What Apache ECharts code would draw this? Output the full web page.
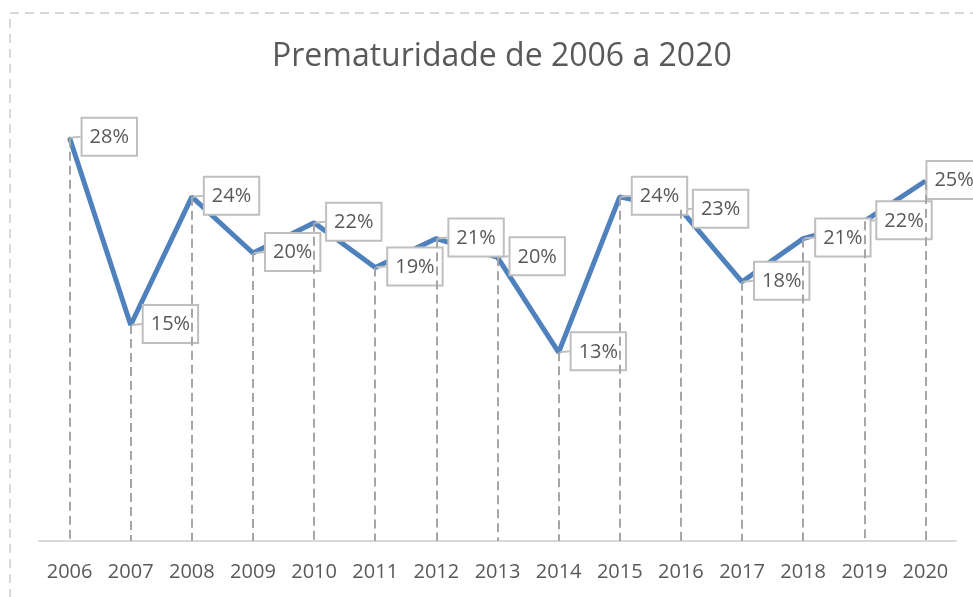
<!DOCTYPE html>
<html>
<head>
<meta charset="utf-8">
<script src="https://cdn.jsdelivr.net/npm/echarts@6/dist/echarts.min.js"></script>
<style>
    html, body { margin: 0; padding: 0; background: #fff; }
    #chart { width: 973px; height: 597px; }
</style>
</head>
<body>
<div id="chart"></div>
<script>
// anos e taxa de prematuridade (%)
var anos = ['2006', '2007', '2008', '2009', '2010', '2011', '2012', '2013', '2014', '2015', '2016', '2017', '2018', '2019', '2020'];
var taxa = [28.0, 15.0, 23.9, 20.0, 22.1, 19.0, 21.0, 19.7, 13.1, 23.9, 23.0, 18.0, 21.0, 22.2, 25.0];
var titulo = 'Prematuridade de 2006 a 2020';

var fonte = '"Open Sans", "Noto Sans", sans-serif';
var cinza = '#595959';

// linhas verticais tracejadas (do ponto até o eixo)
var linhasQueda = anos.map(function (ano, i) {
    return [{ coord: [ano, taxa[i]] }, { coord: [ano, 0] }];
});

// pontos com o rótulo deslocado (o último fica colado na borda)
var pontos = taxa.map(function (v, i) {
    if (i === taxa.length - 1) {
        return { value: v, label: { position: [3, -18] } };
    }
    return v;
});

var myChart = echarts.init(document.getElementById('chart'));

option = {
    backgroundColor: '#fff',
    animation: false,
    title: {
        text: titulo,
        left: 267,
        top: 36,
        textStyle: {
            fontFamily: fonte,
            fontSize: 32,
            fontWeight: 'normal',
            color: cinza
        }
    },
    graphic: [{
        // borda tracejada da área do gráfico
        type: 'rect',
        shape: { x: 10, y: 13, width: 1100, height: 700 },
        style: { fill: 'none', stroke: '#d9d9d9', lineWidth: 2, lineDash: [9, 6] },
        silent: true
    }],
    grid: {
        left: 39,
        right: 17,
        top: 109,
        bottom: 56
    },
    xAxis: {
        type: 'category',
        data: anos,
        boundaryGap: true,
        axisLine: { lineStyle: { color: '#d9d9d9', width: 2 } },
        axisTick: { show: false },
        axisLabel: {
            margin: 21,
            fontFamily: fonte,
            fontSize: 20,
            color: cinza
        }
    },
    yAxis: {
        type: 'value',
        min: 0,
        max: 30,
        show: false,
        splitLine: { show: false }
    },
    series: [
        {
            name: 'queda',
            type: 'line',
            data: taxa,
            symbol: 'none',
            lineStyle: { opacity: 0 },
            silent: true,
            z: 1,
            markLine: {
                silent: true,
                symbol: 'none',
                label: { show: false },
                lineStyle: { type: [9, 5], color: '#a6a6a6', width: 2 },
                data: linhasQueda
            }
        },
        {
            name: 'Prematuridade',
            type: 'line',
            data: pontos,
            z: 3,
            symbol: 'circle',
            symbolSize: 2,
            showSymbol: true,
            itemStyle: { color: '#4f81bd' },
            lineStyle: { color: '#4f81bd', width: 5 },
            label: {
                show: true,
                position: [14, -18],
                align: 'left',
                verticalAlign: 'top',
                fontFamily: fonte,
                fontSize: 20,
                lineHeight: 23,
                color: cinza,
                backgroundColor: '#fff',
                borderColor: '#bfbfbf',
                borderWidth: 2,
                padding: [7, 7, 6, 7],
                formatter: function (p) {
                    return Math.round(p.value) + '%';
                }
            },
            labelLine: {
                show: true,
                lineStyle: { color: '#bfbfbf', width: 2 }
            }
        }
    ]
};
myChart.setOption(option);
</script>
</body>
</html>
